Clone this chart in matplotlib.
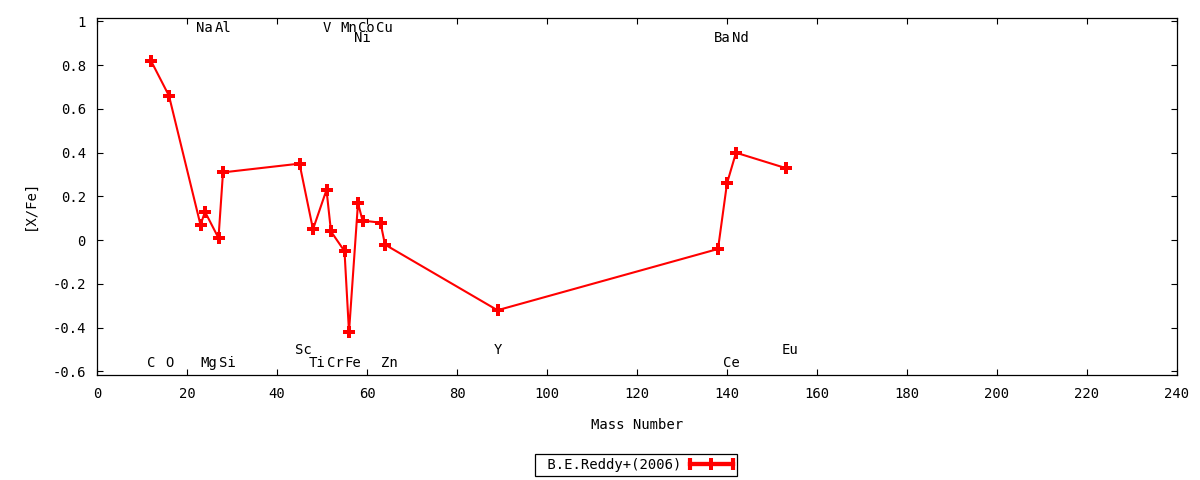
import matplotlib
matplotlib.use("Agg")
import matplotlib.pyplot as plt
from matplotlib.lines import Line2D
from matplotlib.legend_handler import HandlerLine2D, HandlerTuple
from matplotlib.ticker import MultipleLocator

# abundance pattern, B.E.Reddy+(2006)
elements = ["C", "O", "Na", "Mg", "Al", "Si", "Sc", "Ti", "V", "Cr", "Mn",
            "Fe", "Ni", "Co", "Cu", "Zn", "Y", "Ba", "Ce", "Nd", "Eu"]
mass = [12, 16, 23, 24, 27, 28, 45, 48, 51, 52, 55,
        56, 58, 59, 63, 64, 89, 138, 140, 142, 153]
xfe = [0.82, 0.66, 0.07, 0.13, 0.01, 0.31, 0.35, 0.05, 0.23, 0.04, -0.05,
       -0.42, 0.17, 0.09, 0.08, -0.02, -0.32, -0.04, 0.26, 0.40, 0.33]
# which row the element name goes in: 0/1 top rows, 2/3 bottom rows
label_row = [3, 3, 0, 3, 0, 3, 2, 3, 0, 3, 0,
             3, 1, 0, 0, 3, 2, 1, 3, 1, 2]
ytick_vals = [-0.6, -0.4, -0.2, 0, 0.2, 0.4, 0.6, 0.8, 1.0]
ytick_text = ["-0.6", "-0.4", "-0.2", "0", "0.2", "0.4", "0.6", "0.8", "1"]

plt.rcParams["font.family"] = ["DejaVu Sans Mono", "DejaVu Sans"]
plt.rcParams["font.size"] = 10
plt.rcParams["axes.unicode_minus"] = False

fig = plt.figure(figsize=(12, 4.8), dpi=100)
ax = fig.add_axes([97 / 1200, 1 - 375 / 480, 1080 / 1200, (375 - 17.7) / 480])

red = "#ff0000"
ax.plot(mass, xfe, color=red, lw=1.5, marker="P", ms=8.5, mew=0)

row_y = [0.97, 0.925, -0.50, -0.56]
for name, m, r in zip(elements, mass, label_row):
    ax.annotate(name, (m, row_y[r]), xytext=(-3, 0), textcoords="offset points",
                ha="left", va="center", fontsize=10)

ax.set_xlim(0, 240)
ax.set_ylim(-0.616, 1.017)
ax.xaxis.set_major_locator(MultipleLocator(20))
ax.set_yticks(ytick_vals)
ax.set_yticklabels(ytick_text)
ax.tick_params(direction="in", length=4, width=0.8, top=True, right=True)
ax.tick_params(axis="y", pad=8)
ax.tick_params(axis="x", pad=9)
for sp in ax.spines.values():
    sp.set_linewidth(0.9)

ax.set_xlabel("Mass Number", labelpad=12)
ax.set_ylabel("[X/Fe]")
ax.yaxis.set_label_coords(-0.056, 0.476)

# gnuplot style key sample: thick line, end caps, point in the middle
caps = Line2D([], [], color=red, lw=3, marker="|", ms=8, mew=3)
mid = Line2D([], [], color=red, lw=3, marker="P", ms=8, mew=0)
leg = fig.legend([(caps, mid)], [" B.E.Reddy+(2006)"],
                 handler_map={caps: HandlerLine2D(numpoints=2, marker_pad=0),
                              mid: HandlerLine2D(numpoints=1),
                              tuple: HandlerTuple(ndivide=1)},
                 loc="center", bbox_to_anchor=(0.53, 0.031),
                 markerfirst=False, handlelength=3.1, handletextpad=0.6,
                 borderpad=0.28, fancybox=False, framealpha=1)
leg.get_frame().set_edgecolor("black")
leg.get_frame().set_linewidth(0.9)

fig.savefig("out.png", dpi=100)
